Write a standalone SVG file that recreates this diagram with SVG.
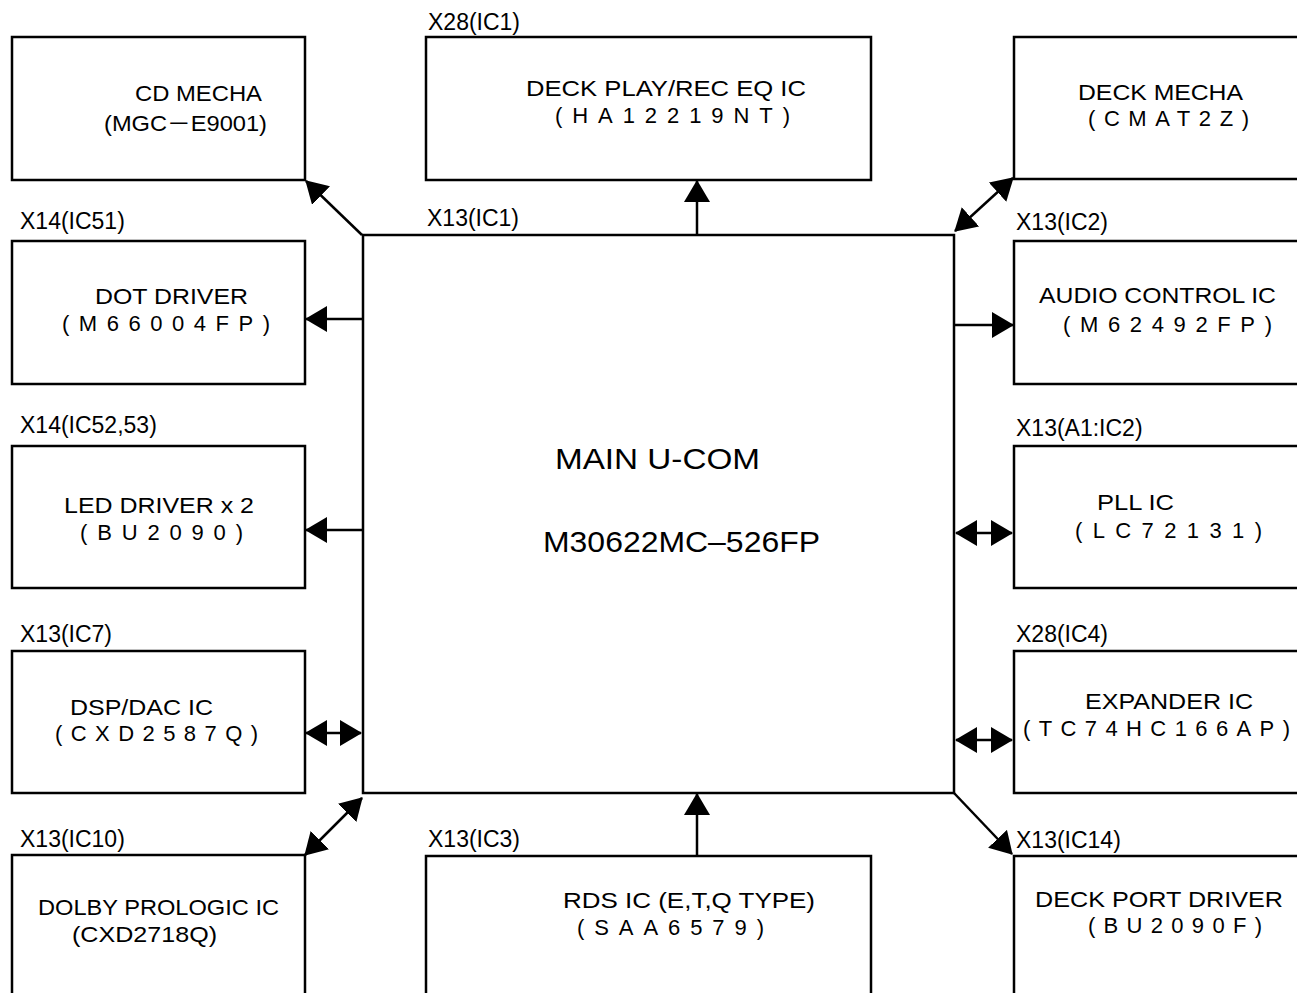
<svg xmlns="http://www.w3.org/2000/svg" width="1297" height="993" viewBox="0 0 1297 993">
<style>
.box{fill:none;stroke:#000;stroke-width:2.5}
.lbl{font-family:"Liberation Sans","Noto Sans CJK JP",sans-serif;font-size:23px;fill:#000}
.t{font-family:"Liberation Sans","Noto Sans CJK JP",sans-serif;font-size:22px;fill:#000}
.big{font-family:"Liberation Sans",sans-serif;font-size:30px;fill:#000}
.c{fill:none;stroke:#000;stroke-width:2.5}
</style>
<defs>
<marker id="ah" markerUnits="userSpaceOnUse" markerWidth="24" markerHeight="26" refX="21" refY="13" orient="auto-start-reverse" viewBox="0 0 24 26">
<path d="M0,0 L22,13 L0,26 Z" fill="#000"/>
</marker>
</defs>
<rect width="1297" height="993" fill="#fff"/>

<g id="cd-mecha">
<rect class="box" x="12" y="37" width="293" height="143"/>
<text class="t" x="135" y="101" textLength="127" lengthAdjust="spacingAndGlyphs">CD MECHA</text>
<text class="t" x="104" y="131" textLength="163" lengthAdjust="spacingAndGlyphs">(MGC－E9001)</text>
</g>
<g id="dot-driver">
<text class="lbl" x="20" y="229">X14(IC51)</text>
<rect class="box" x="12" y="241" width="293" height="143"/>
<text class="t" x="95" y="304" textLength="153" lengthAdjust="spacingAndGlyphs">DOT  DRIVER</text>
<text class="t" x="62" y="331" textLength="208" lengthAdjust="spacing">(M66004FP)</text>
</g>
<g id="led-driver">
<text class="lbl" x="20" y="433">X14(IC52,53)</text>
<rect class="box" x="12" y="446" width="293" height="142"/>
<text class="t" x="64" y="513" textLength="190" lengthAdjust="spacingAndGlyphs">LED  DRIVER x 2</text>
<text class="t" x="80" y="540" textLength="163" lengthAdjust="spacing">(BU2090)</text>
</g>
<g id="dsp-dac">
<text class="lbl" x="20" y="642">X13(IC7)</text>
<rect class="box" x="12" y="651" width="293" height="142"/>
<text class="t" x="70" y="715" textLength="143" lengthAdjust="spacingAndGlyphs">DSP/DAC  IC</text>
<text class="t" x="55" y="741" textLength="203" lengthAdjust="spacing">(CXD2587Q)</text>
</g>
<g id="dolby">
<text class="lbl" x="20" y="847">X13(IC10)</text>
<rect class="box" x="12" y="855" width="293" height="160"/>
<text class="t" x="38" y="915" textLength="241" lengthAdjust="spacingAndGlyphs">DOLBY PROLOGIC IC</text>
<text class="t" x="72" y="942" textLength="145" lengthAdjust="spacingAndGlyphs">(CXD2718Q)</text>
</g>

<g id="deck-eq">
<text class="lbl" x="428" y="30">X28(IC1)</text>
<rect class="box" x="426" y="37" width="445" height="143"/>
<text class="t" x="526" y="96" textLength="280" lengthAdjust="spacingAndGlyphs">DECK  PLAY/REC  EQ  IC</text>
<text class="t" x="555" y="123" textLength="235" lengthAdjust="spacing">(HA12219NT)</text>
</g>
<g id="main-ucom">
<text class="lbl" x="427" y="226">X13(IC1)</text>
<rect class="box" x="363" y="235" width="591" height="558"/>
<text class="big" x="555" y="469" textLength="205" lengthAdjust="spacingAndGlyphs">MAIN  U-COM</text>
<text class="big" x="543" y="552" textLength="277" lengthAdjust="spacingAndGlyphs">M30622MC–526FP</text>
</g>
<g id="rds">
<text class="lbl" x="428" y="847">X13(IC3)</text>
<rect class="box" x="426" y="856" width="445" height="160"/>
<text class="t" x="563" y="908" textLength="252" lengthAdjust="spacingAndGlyphs">RDS  IC  (E,T,Q  TYPE)</text>
<text class="t" x="577" y="935" textLength="187" lengthAdjust="spacing">(SAA6579)</text>
</g>

<g id="deck-mecha">
<rect class="box" x="1014" y="37" width="300" height="142"/>
<text class="t" x="1078" y="100" textLength="165" lengthAdjust="spacingAndGlyphs">DECK  MECHA</text>
<text class="t" x="1088" y="126" textLength="161" lengthAdjust="spacing">(CMAT2Z)</text>
</g>
<g id="audio-control">
<text class="lbl" x="1016" y="230">X13(IC2)</text>
<rect class="box" x="1014" y="241" width="300" height="143"/>
<text class="t" x="1039" y="303" textLength="237" lengthAdjust="spacingAndGlyphs">AUDIO CONTROL  IC</text>
<text class="t" x="1063" y="332" textLength="209" lengthAdjust="spacing">(M62492FP)</text>
</g>
<g id="pll">
<text class="lbl" x="1016" y="436">X13(A1:IC2)</text>
<rect class="box" x="1014" y="446" width="300" height="142"/>
<text class="t" x="1097" y="510" textLength="77" lengthAdjust="spacingAndGlyphs">PLL  IC</text>
<text class="t" x="1075" y="538" textLength="187" lengthAdjust="spacing">(LC72131)</text>
</g>
<g id="expander">
<text class="lbl" x="1016" y="642">X28(IC4)</text>
<rect class="box" x="1014" y="651" width="300" height="142"/>
<text class="t" x="1085" y="709" textLength="168" lengthAdjust="spacingAndGlyphs">EXPANDER  IC</text>
<text class="t" x="1023" y="736" textLength="267" lengthAdjust="spacing">(TC74HC166AP)</text>
</g>
<g id="deck-port">
<text class="lbl" x="1016" y="848">X13(IC14)</text>
<rect class="box" x="1014" y="856" width="300" height="160"/>
<text class="t" x="1035" y="907" textLength="248" lengthAdjust="spacingAndGlyphs">DECK  PORT  DRIVER</text>
<text class="t" x="1088" y="933" textLength="174" lengthAdjust="spacing">(BU2090F)</text>
</g>

<g id="connectors">
<line class="c" x1="362" y1="235" x2="306" y2="181" marker-end="url(#ah)"/>
<line class="c" x1="697" y1="235" x2="697" y2="181" marker-end="url(#ah)"/>
<line class="c" x1="955" y1="231" x2="1013" y2="178" marker-start="url(#ah)" marker-end="url(#ah)"/>
<line class="c" x1="363" y1="319" x2="306" y2="319" marker-end="url(#ah)"/>
<line class="c" x1="363" y1="530" x2="306" y2="530" marker-end="url(#ah)"/>
<line class="c" x1="306" y1="733" x2="361" y2="733" marker-start="url(#ah)" marker-end="url(#ah)"/>
<line class="c" x1="362" y1="798" x2="305" y2="855" marker-start="url(#ah)" marker-end="url(#ah)"/>
<line class="c" x1="954" y1="325" x2="1013" y2="325" marker-end="url(#ah)"/>
<line class="c" x1="956" y1="533" x2="1012" y2="533" marker-start="url(#ah)" marker-end="url(#ah)"/>
<line class="c" x1="956" y1="740" x2="1012" y2="740" marker-start="url(#ah)" marker-end="url(#ah)"/>
<line class="c" x1="697" y1="856" x2="697" y2="794" marker-end="url(#ah)"/>
<line class="c" x1="954" y1="793" x2="1012" y2="854" marker-end="url(#ah)"/>
</g>
</svg>
